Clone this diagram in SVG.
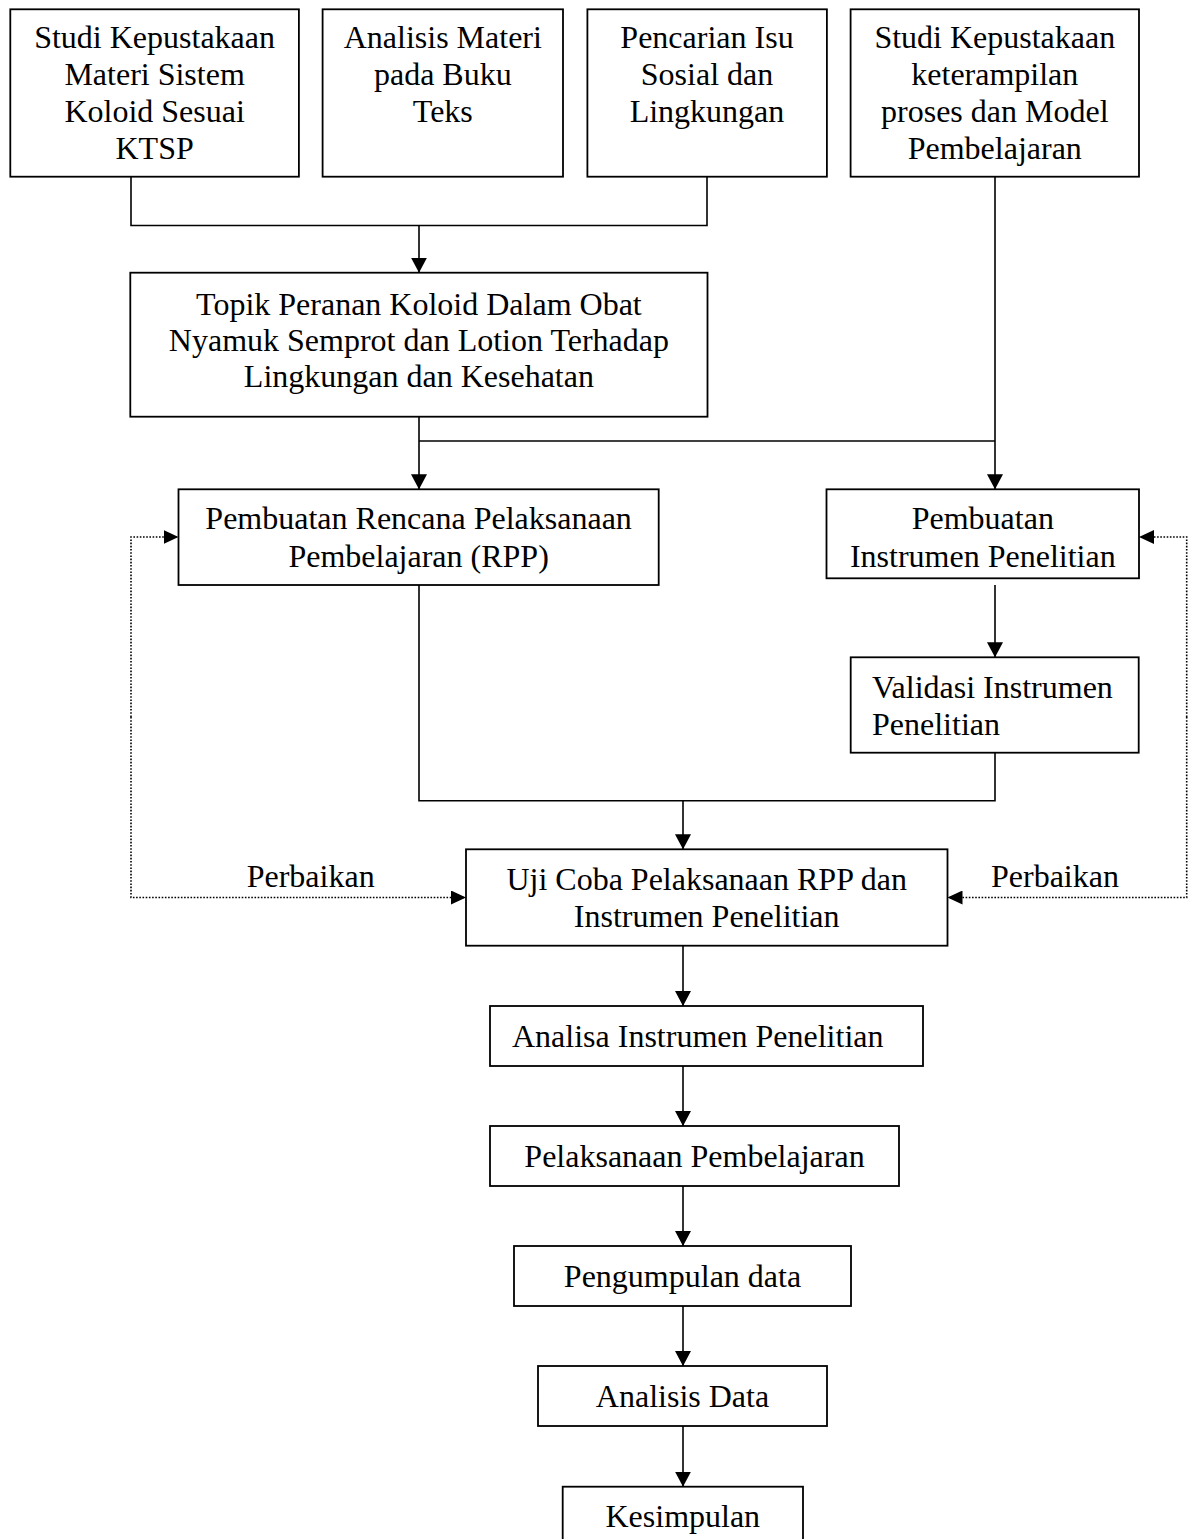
<svg xmlns="http://www.w3.org/2000/svg" width="1190" height="1539" viewBox="0 0 1190 1539">
<style>
  .box { fill: #fff; stroke: #000; stroke-width: 1.8; }
  .t { font-family: "Liberation Serif", "Times New Roman", serif; font-size: 32px; fill: #000; text-anchor: middle; }
  .ts { font-family: "Liberation Serif", "Times New Roman", serif; font-size: 32px; fill: #000; text-anchor: start; }
  .ln { fill: none; stroke: #000; stroke-width: 1.6; }
  .dot { fill: none; stroke: #000; stroke-width: 1.6; stroke-dasharray: 1.6 1.6; }
</style>
<defs>
  <marker id="ah" viewBox="0 0 15 16" refX="15" refY="8" markerWidth="15" markerHeight="16" markerUnits="userSpaceOnUse" orient="auto">
    <path d="M0,0 L15,8 L0,16 z" fill="#000"/>
  </marker>
  <marker id="ahs" viewBox="0 0 15 14" refX="15" refY="7" markerWidth="15" markerHeight="14" markerUnits="userSpaceOnUse" orient="auto">
    <path d="M0,0 L15,7 L0,14 z" fill="#000"/>
  </marker>
</defs>
<rect width="1190" height="1539" fill="#fff"/>

<g id="connectors">
  <path class="ln" d="M131,177 V225.5 H707 V177"/>
  <path class="ln" d="M419,225.5 V272.7" marker-end="url(#ah)"/>
  <path class="ln" d="M995,177 V489.3" marker-end="url(#ah)"/>
  <path class="ln" d="M419,441 H995"/>
  <path class="ln" d="M419,416.7 V489.3" marker-end="url(#ah)"/>
  <path class="ln" d="M995,585 V657.3" marker-end="url(#ah)"/>
  <path class="ln" d="M419,585 V800.7 H995 V752.7"/>
  <path class="ln" d="M683,800.7 V849.3" marker-end="url(#ah)"/>
  <path class="dot" d="M131,717 V537 H178.5" marker-end="url(#ahs)"/>
  <path class="dot" d="M131,717 V897.5 H466" marker-end="url(#ahs)"/>
  <path class="dot" d="M1186.7,717 V537 H1139" marker-end="url(#ahs)"/>
  <path class="dot" d="M1186.7,717 V897.5 H947.5" marker-end="url(#ahs)"/>
  <path class="ln" d="M683,945.7 V1006" marker-end="url(#ah)"/>
  <path class="ln" d="M683,1066 V1126" marker-end="url(#ah)"/>
  <path class="ln" d="M683,1186 V1246" marker-end="url(#ah)"/>
  <path class="ln" d="M683,1306 V1366" marker-end="url(#ah)"/>
  <path class="ln" d="M683,1426 V1486.7" marker-end="url(#ah)"/>
  <text class="ts" x="246.7" y="887">Perbaikan</text>
  <text class="ts" x="991" y="887">Perbaikan</text>
</g>

<g id="n1">
  <rect class="box" x="10.3" y="9.3" width="288.6" height="167.4"/>
  <text class="t" x="154.6" y="48.3">Studi Kepustakaan</text>
  <text class="t" x="154.6" y="85.1">Materi Sistem</text>
  <text class="t" x="154.6" y="121.9">Koloid Sesuai</text>
  <text class="t" x="154.6" y="158.7">KTSP</text>
</g>
<g id="n2">
  <rect class="box" x="322.6" y="9.3" width="240.4" height="167.4"/>
  <text class="t" x="442.8" y="48.3">Analisis Materi</text>
  <text class="t" x="442.8" y="85.1">pada Buku</text>
  <text class="t" x="442.8" y="121.9">Teks</text>
</g>
<g id="n3">
  <rect class="box" x="587.4" y="9.3" width="239.5" height="167.4"/>
  <text class="t" x="707" y="48.3">Pencarian Isu</text>
  <text class="t" x="707" y="85.1">Sosial dan</text>
  <text class="t" x="707" y="121.9">Lingkungan</text>
</g>
<g id="n4">
  <rect class="box" x="850.6" y="9.3" width="288.4" height="167.4"/>
  <text class="t" x="994.8" y="48.3">Studi Kepustakaan</text>
  <text class="t" x="994.8" y="85.1">keterampilan</text>
  <text class="t" x="994.8" y="121.9">proses dan Model</text>
  <text class="t" x="994.8" y="158.7">Pembelajaran</text>
</g>
<g id="n5">
  <rect class="box" x="130.3" y="272.7" width="577.2" height="144"/>
  <text class="t" x="418.9" y="315">Topik Peranan Koloid Dalam Obat</text>
  <text class="t" x="418.9" y="351">Nyamuk Semprot dan Lotion Terhadap</text>
  <text class="t" x="418.9" y="387">Lingkungan dan Kesehatan</text>
</g>
<g id="n6">
  <rect class="box" x="178.5" y="489.3" width="480.2" height="95.7"/>
  <text class="t" x="418.6" y="529.3">Pembuatan Rencana Pelaksanaan</text>
  <text class="t" x="418.6" y="566.7">Pembelajaran (RPP)</text>
</g>
<g id="n7">
  <rect class="box" x="826.5" y="489.3" width="312.5" height="89"/>
  <text class="t" x="982.8" y="529.3">Pembuatan</text>
  <text class="t" x="982.8" y="566.7">Instrumen Penelitian</text>
</g>
<g id="n8">
  <rect class="box" x="850.7" y="657.3" width="288" height="95.4"/>
  <text class="ts" x="872" y="698.3">Validasi Instrumen</text>
  <text class="ts" x="872" y="735">Penelitian</text>
</g>
<g id="n9">
  <rect class="box" x="466" y="849.3" width="481.5" height="96.4"/>
  <text class="t" x="706.7" y="889.5">Uji Coba Pelaksanaan RPP dan</text>
  <text class="t" x="706.7" y="926.5">Instrumen Penelitian</text>
</g>
<g id="n10">
  <rect class="box" x="490" y="1006" width="433" height="60"/>
  <text class="ts" x="512" y="1046.7">Analisa Instrumen Penelitian</text>
</g>
<g id="n11">
  <rect class="box" x="490" y="1126" width="409" height="60"/>
  <text class="t" x="694.5" y="1166.7">Pelaksanaan Pembelajaran</text>
</g>
<g id="n12">
  <rect class="box" x="514" y="1246" width="337" height="60"/>
  <text class="t" x="682.5" y="1286.5">Pengumpulan data</text>
</g>
<g id="n13">
  <rect class="box" x="538" y="1366" width="289" height="60"/>
  <text class="t" x="682.5" y="1406.7">Analisis Data</text>
</g>
<g id="n14">
  <rect class="box" x="562.7" y="1486.7" width="240.3" height="60"/>
  <text class="t" x="682.8" y="1526.7">Kesimpulan</text>
</g>
</svg>
